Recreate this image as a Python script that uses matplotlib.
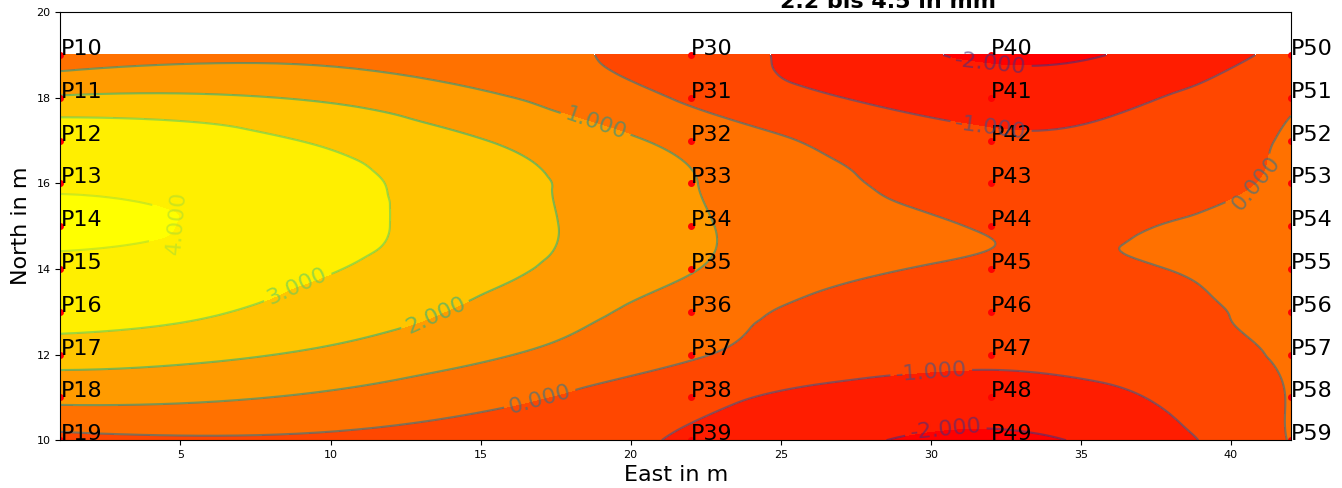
import numpy as np
import matplotlib
matplotlib.use('Agg')
import matplotlib.pyplot as plt
import matplotlib.tri as mtri

# measuring points: east position of each line and north positions (top to bottom)
east = [1, 22, 32, 42]
north = [19, 18, 17, 16, 15, 14, 13, 12, 11, 10]
first_number = [10, 30, 40, 50]

# readings per line of points, top (north=19) to bottom (north=10)
val_e1 = [0.4, 2.1, 3.85, 3.9, 4.35, 3.7, 3.5, 2.4, 1.25, -0.3]
val_e22 = [-0.5, -0.15, 0.7, 1.05, 1.15, 1.05, 0.5, 0.1, -0.7, -1.1]
val_e32 = [-2.15, -1.4, -0.85, -0.45, -0.05, -0.2, -0.8, -0.9, -1.5, -2.2]
val_e42 = [-0.7, -0.15, 0.1, 0.15, 0.45, 0.5, 0.5, 0.15, 0.05, 0.05]

title = "2.2 bis 4.5 in mm"

# where the contour labels sit
label_spots = [(19, 17.7), (4.8, 15.1), (8.4, 14.3), (13.2, 13.3), (17, 10.9),
               (32, 18.8), (32, 17.3), (40.5, 16.2), (30, 11.7), (30.5, 10.2)]

x, y, z, names = [], [], [], []
for e, start, vals in zip(east, first_number, [val_e1, val_e22, val_e32, val_e42]):
    for i, n in enumerate(north):
        x.append(e)
        y.append(n)
        z.append(vals[i])
        names.append("P%d" % (start + i))
x = np.array(x, dtype=float)
y = np.array(y, dtype=float)
z = np.array(z)

tri = mtri.Triangulation(x, y)
interp = mtri.CubicTriInterpolator(tri, z, kind='min_E')
refiner = mtri.UniformTriRefiner(tri)
tri_f, z_f = refiner.refine_field(z, triinterpolator=interp, subdiv=5)

fig = plt.figure(figsize=(13.42, 4.88), dpi=100)
ax = fig.add_axes([0.045, 0.098, 0.917, 0.877])

ax.tricontourf(tri_f, z_f, levels=np.arange(-3, 6), cmap='autumn', vmin=-2.2, vmax=3.9)
cs = ax.tricontour(tri_f, z_f, levels=np.arange(-2, 5), cmap='viridis',
                   vmin=-3, vmax=5, alpha=0.6)
ax.clabel(cs, fmt='%1.3f', fontsize=16, inline=True, manual=label_spots)

ax.plot(x, y, 'ro', markersize=4)
for xi, yi, nm in zip(x, y, names):
    ax.text(xi, yi, nm, fontsize=16)

ax.set_xlim(1, 42)
ax.set_ylim(10, 20)
ax.tick_params(labelsize=8)
ax.set_xlabel("East in m", fontsize=16)
ax.set_ylabel("North in m", fontsize=16)

fig.text(0.662, 0.984, title, ha='center', va='baseline', fontsize=16, fontweight='bold')

fig.savefig('out.png', dpi=100)
